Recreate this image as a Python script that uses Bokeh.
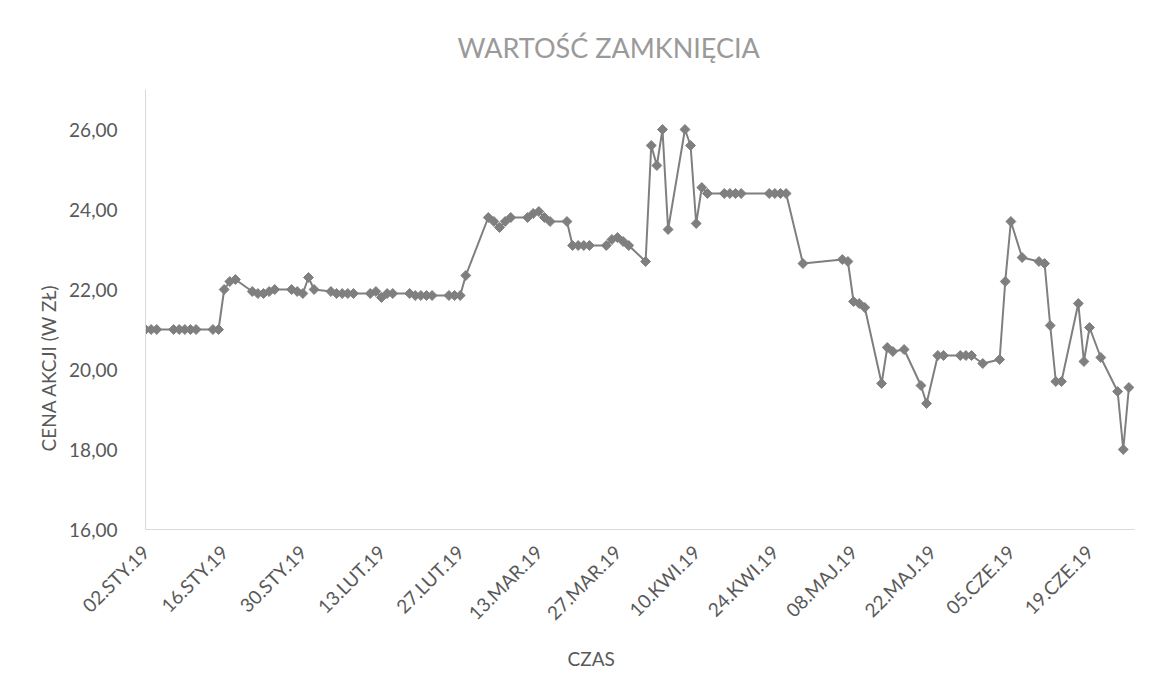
import math
import pandas as pd
from bokeh.plotting import figure
from bokeh.models import FixedTicker, Title, ColumnDataSource, Range1d
from bokeh.embed import file_html
from bokeh.resources import INLINE

# ---------------- data ----------------
trade_dates = [
    "2019-01-02", "2019-01-03", "2019-01-04",
    "2019-01-07", "2019-01-08", "2019-01-09", "2019-01-10", "2019-01-11",
    "2019-01-14", "2019-01-15", "2019-01-16", "2019-01-17", "2019-01-18",
    "2019-01-21", "2019-01-22", "2019-01-23", "2019-01-24", "2019-01-25",
    "2019-01-28", "2019-01-29", "2019-01-30", "2019-01-31", "2019-02-01",
    "2019-02-04", "2019-02-05", "2019-02-06", "2019-02-07", "2019-02-08",
    "2019-02-11", "2019-02-12", "2019-02-13", "2019-02-14", "2019-02-15",
    "2019-02-18", "2019-02-19", "2019-02-20", "2019-02-21", "2019-02-22",
    "2019-02-25", "2019-02-26", "2019-02-27", "2019-02-28",
    "2019-03-04", "2019-03-05", "2019-03-06", "2019-03-07", "2019-03-08",
    "2019-03-11", "2019-03-12", "2019-03-13", "2019-03-14", "2019-03-15",
    "2019-03-18", "2019-03-19", "2019-03-20", "2019-03-21", "2019-03-22",
    "2019-03-25", "2019-03-26", "2019-03-27", "2019-03-28", "2019-03-29",
    "2019-04-01", "2019-04-02", "2019-04-03", "2019-04-04", "2019-04-05",
    "2019-04-08", "2019-04-09", "2019-04-10", "2019-04-11", "2019-04-12",
    "2019-04-15", "2019-04-16", "2019-04-17", "2019-04-18",
    "2019-04-23", "2019-04-24", "2019-04-25", "2019-04-26",
    "2019-04-29",
    "2019-05-06", "2019-05-07", "2019-05-08", "2019-05-09", "2019-05-10",
    "2019-05-13", "2019-05-14", "2019-05-15", "2019-05-17",
    "2019-05-20", "2019-05-21", "2019-05-23", "2019-05-24",
    "2019-05-27", "2019-05-28", "2019-05-29", "2019-05-31",
    "2019-06-03", "2019-06-04", "2019-06-05", "2019-06-07",
    "2019-06-10", "2019-06-11", "2019-06-12", "2019-06-13", "2019-06-14",
    "2019-06-17", "2019-06-18", "2019-06-19", "2019-06-21",
    "2019-06-24", "2019-06-25", "2019-06-26",
]

close_prices = [
    21.00, 21.00, 21.00,
    21.00, 21.00, 21.00, 21.00, 21.00,
    21.00, 21.00, 22.00, 22.20, 22.25,
    21.95, 21.90, 21.90, 21.95, 22.00,
    22.00, 21.95, 21.90, 22.30, 22.00,
    21.95, 21.90, 21.90, 21.90, 21.90,
    21.90, 21.95, 21.80, 21.90, 21.90,
    21.90, 21.85, 21.85, 21.85, 21.85,
    21.85, 21.85, 21.85, 22.35,
    23.80, 23.70, 23.55, 23.70, 23.80,
    23.80, 23.90, 23.95, 23.80, 23.70,
    23.70, 23.10, 23.10, 23.10, 23.10,
    23.10, 23.25, 23.30, 23.20, 23.10,
    22.70, 25.60, 25.10, 26.00, 23.50,
    26.00, 25.60, 23.65, 24.55, 24.40,
    24.40, 24.40, 24.40, 24.40,
    24.40, 24.40, 24.40, 24.40,
    22.65,
    22.75, 22.70, 21.70, 21.65, 21.55,
    19.65, 20.55, 20.45, 20.50,
    19.60, 19.15, 20.35, 20.35,
    20.35, 20.35, 20.35, 20.15,
    20.25, 22.20, 23.70, 22.80,
    22.70, 22.65, 21.10, 19.70, 19.70,
    21.65, 20.20, 21.05, 20.30,
    19.45, 18.00, 19.55,
]

x_tick_dates = [
    "2019-01-02", "2019-01-16", "2019-01-30", "2019-02-13", "2019-02-27",
    "2019-03-13", "2019-03-27", "2019-04-10", "2019-04-24", "2019-05-08",
    "2019-05-22", "2019-06-05", "2019-06-19",
]
x_tick_labels = [
    "02.STY.19", "16.STY.19", "30.STY.19", "13.LUT.19", "27.LUT.19",
    "13.MAR.19", "27.MAR.19", "10.KWI.19", "24.KWI.19", "08.MAJ.19",
    "22.MAJ.19", "05.CZE.19", "19.CZE.19",
]
y_ticks = [16, 18, 20, 22, 24, 26]
y_tick_labels = ["16,00", "18,00", "20,00", "22,00", "24,00", "26,00"]

title_text = "WARTOŚĆ ZAMKNIĘCIA"
y_label_text = "CENA AKCJI (W ZŁ)"
x_label_text = "CZAS"

# ---------------- styling ----------------
FONT = "Lato"
LABEL_COLOR = "#595959"
SERIES_COLOR = "#7f7f7f"
AXIS_COLOR = "#d9d9d9"

src = ColumnDataSource(dict(date=pd.to_datetime(trade_dates), close=close_prices))

p = figure(
    width=1154, height=681,
    x_axis_type="datetime",
    x_range=Range1d(pd.Timestamp("2019-01-02"), pd.Timestamp("2019-06-27")),
    y_range=Range1d(16, 27),
    output_backend="svg", toolbar_location=None,
    min_border_left=145, min_border_right=20,
    min_border_top=89, min_border_bottom=152,
)
p.outline_line_color = None
p.background_fill_color = "white"
p.border_fill_color = "white"
p.xgrid.grid_line_color = None
p.ygrid.grid_line_color = None

# title (left-aligned with an offset so it sits where the reference has it)
p.title.text = title_text
p.title.align = "left"
p.title.offset = 312
p.title.standoff = 52
p.title.text_font = FONT
p.title.text_font_size = "27px"
p.title.text_font_style = "normal"
p.title.text_color = "#9a9a9a"

# x axis
x_tick_ms = [int(pd.Timestamp(d).value // 10**6) for d in x_tick_dates]
p.xaxis.ticker = FixedTicker(ticks=x_tick_ms)
p.xaxis.major_label_overrides = dict(zip(x_tick_ms, x_tick_labels))
p.xaxis.major_label_orientation = math.pi / 4
p.xaxis.major_label_standoff = 13
p.xaxis.major_tick_line_color = None
p.xaxis.minor_tick_line_color = None
p.xaxis.axis_line_color = AXIS_COLOR
p.xaxis.major_label_text_font = FONT
p.xaxis.major_label_text_font_size = "19px"
p.xaxis.major_label_text_color = LABEL_COLOR

# y axis
p.yaxis.ticker = FixedTicker(ticks=y_ticks)
p.yaxis.major_label_overrides = dict(zip(y_ticks, y_tick_labels))
p.yaxis.major_label_standoff = 22
p.yaxis.major_tick_line_color = None
p.yaxis.minor_tick_line_color = None
p.yaxis.axis_line_color = AXIS_COLOR
p.yaxis.major_label_text_font = FONT
p.yaxis.major_label_text_font_size = "19px"
p.yaxis.major_label_text_color = LABEL_COLOR

# axis titles
p.add_layout(Title(text=y_label_text, align="left", offset=78, standoff=14,
                   text_font=FONT, text_font_size="19px", text_font_style="normal",
                   text_color=LABEL_COLOR), "left")
p.add_layout(Title(text=x_label_text, align="left", offset=422, standoff=18,
                   text_font=FONT, text_font_size="19px", text_font_style="normal",
                   text_color=LABEL_COLOR), "below")

# series
p.line("date", "close", source=src, line_color=SERIES_COLOR, line_width=2)
p.scatter("date", "close", source=src, marker="square", angle=math.pi / 4, size=7,
          fill_color=SERIES_COLOR, line_color=SERIES_COLOR)

open("out.html", "w").write(file_html(p, INLINE))
